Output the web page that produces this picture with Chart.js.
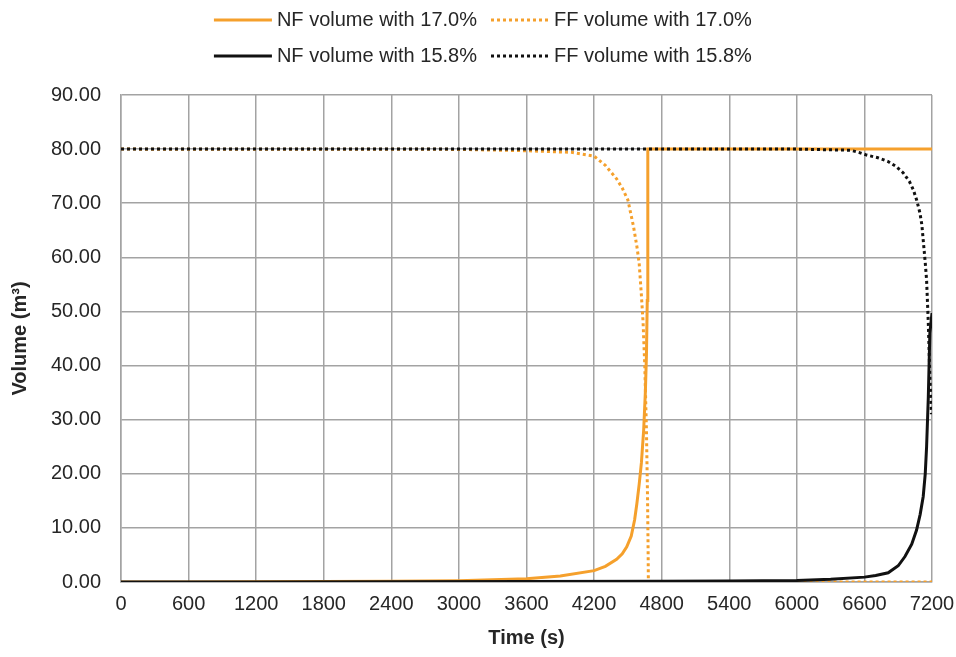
<!DOCTYPE html>
<html>
<head>
<meta charset="utf-8">
<script src="https://cdn.jsdelivr.net/npm/chart.js@4/dist/chart.umd.min.js"></script>
<style>
  body { margin: 0; background: #fff; }
  #myChart { display: block; }
</style>
</head>
<body>
<canvas id="myChart" width="956" height="657"></canvas>
<script>
// time (s) / volume (m3)
const nf170Time = [0, 600, 1200, 1800, 2400, 3000, 3600, 3900, 4200, 4300, 4400, 4450, 4490, 4530, 4560, 4580, 4600, 4620, 4640, 4655, 4665, 4672, 4676, 4678, 7200];
const nf170Vol  = [0, 0.02, 0.05, 0.1, 0.15, 0.25, 0.6, 1.1, 2.1, 2.9, 4.2, 5.2, 6.5, 8.5, 11.5, 14.5, 18, 22, 28, 35, 42, 52, 62, 80, 80];

const ff170Time = [0, 3000, 3600, 4000, 4200, 4300, 4400, 4450, 4500, 4550, 4580, 4600, 4620, 4635, 4650, 4665, 4675, 4680, 4682, 7200];
const ff170Vol  = [80, 79.95, 79.7, 79.4, 78.7, 77, 74.5, 72.8, 70.6, 65.7, 62, 59, 53, 48, 40, 28, 15, 5, 0, 0];

const nf158Time = [0, 1200, 2400, 3600, 4800, 5400, 6000, 6300, 6600, 6700, 6811, 6900, 6960, 7020, 7063, 7095, 7122, 7140, 7152, 7167, 7181, 7200];
const nf158Vol  = [0, 0.02, 0.05, 0.1, 0.15, 0.2, 0.3, 0.5, 0.9, 1.2, 1.7, 3.0, 4.7, 7, 9.6, 12.5, 15.8, 20, 25, 34, 46, 49.7];

const ff158Time = [0, 6000, 6474, 6550, 6620, 6720, 6811, 6880, 6945, 7000, 7034, 7065, 7093, 7110, 7122, 7140, 7152, 7167, 7181, 7195];
const ff158Vol  = [80, 80, 79.8, 79.4, 78.9, 78.4, 77.7, 76.8, 75.6, 74, 72.5, 70.5, 68.2, 66, 63.2, 59, 55.8, 48, 38, 31];

const seriesNames = ['NF volume with 17.0%', 'FF volume with 17.0%', 'NF volume with 15.8%', 'FF volume with 15.8%'];
const xTicks = [0, 600, 1200, 1800, 2400, 3000, 3600, 4200, 4800, 5400, 6000, 6600, 7200];

const orange = '#f5a02c';
const black = '#111111';

function pts(xs, ys) {
    return xs.map((x, i) => ({x: x, y: ys[i]}));
}

// legend in two rows, two entries per row, like the original
const twoRowLegend = {
    id: 'twoRowLegend',
    afterDraw(chart) {
        const ctx = chart.ctx;
        const ds = chart.data.datasets;
        ctx.save();
        ctx.font = '20px "Liberation Sans", Arial, sans-serif';
        ctx.textBaseline = 'middle';
        ctx.fillStyle = '#262626';
        const lineLen = 58, gap = 5, colGap = 14;
        const textW = Math.max(...ds.map(d => ctx.measureText(d.label).width));
        const entryW = lineLen + gap + textW;
        const startX = 484 - (entryW * 2 + colGap) / 2;
        const rowsY = [20, 56];
        ds.forEach((d, i) => {
            const row = Math.floor(i / 2), col = i % 2;
            const x = startX + col * (entryW + colGap);
            const y = rowsY[row];
            ctx.strokeStyle = d.borderColor;
            ctx.lineWidth = 3;
            ctx.setLineDash(d.borderDash || []);
            ctx.beginPath();
            ctx.moveTo(x, y);
            ctx.lineTo(x + lineLen, y);
            ctx.stroke();
            ctx.setLineDash([]);
            ctx.fillText(d.label, x + lineLen + gap, y);
        });
        ctx.restore();
    }
};

const ctx = document.getElementById('myChart').getContext('2d');
const myChart = new Chart(ctx, {
    type: 'line',
    data: {
        datasets: [
            {label: seriesNames[0], data: pts(nf170Time, nf170Vol), borderColor: orange, borderWidth: 3, order: 2},
            {label: seriesNames[1], data: pts(ff170Time, ff170Vol), borderColor: orange, borderWidth: 3, borderDash: [3, 3], order: 2},
            {label: seriesNames[2], data: pts(nf158Time, nf158Vol), borderColor: black, borderWidth: 3, order: 1},
            {label: seriesNames[3], data: pts(ff158Time, ff158Vol), borderColor: black, borderWidth: 3, borderDash: [3, 3], order: 1}
        ]
    },
    options: {
        responsive: false,
        animation: false,
        elements: {point: {radius: 0}, line: {tension: 0, fill: false}},
        layout: {padding: {top: 95, right: 24, left: 0, bottom: 0}},
        plugins: {legend: {display: false}, tooltip: {enabled: false}},
        scales: {
            x: {
                type: 'linear',
                min: 0,
                max: 7200,
                afterBuildTicks: (scale) => { scale.ticks = xTicks.map(v => ({value: v})); },
                afterFit: (scale) => { scale.height = 75; scale.paddingRight = 0; scale.paddingLeft = 0; },
                ticks: {color: '#262626', font: {size: 20, family: '"Liberation Sans", Arial'}, padding: 10, maxRotation: 0,
                        callback: (v) => String(v)},
                grid: {color: '#a3a3a3', lineWidth: 1.5, drawTicks: false},
                border: {color: '#a3a3a3', width: 1.5},
                title: {display: true, text: 'Time (s)', color: '#262626', font: {size: 20, weight: 'bold', family: '"Liberation Sans", Arial'}, padding: {bottom: 7}}
            },
            y: {
                min: 0,
                max: 90,
                afterFit: (scale) => { scale.width = 121; },
                ticks: {stepSize: 10, color: '#262626', font: {size: 20, family: '"Liberation Sans", Arial'}, padding: 20,
                        callback: (v) => v.toFixed(2)},
                grid: {color: '#a3a3a3', lineWidth: 1.5, drawTicks: false},
                border: {color: '#a3a3a3', width: 1.5},
                title: {display: true, text: 'Volume (m³)', color: '#262626', font: {size: 20, weight: 'bold', family: '"Liberation Sans", Arial'}, padding: {top: 8}}
            }
        }
    },
    plugins: [twoRowLegend]
});
</script>
</body>
</html>
